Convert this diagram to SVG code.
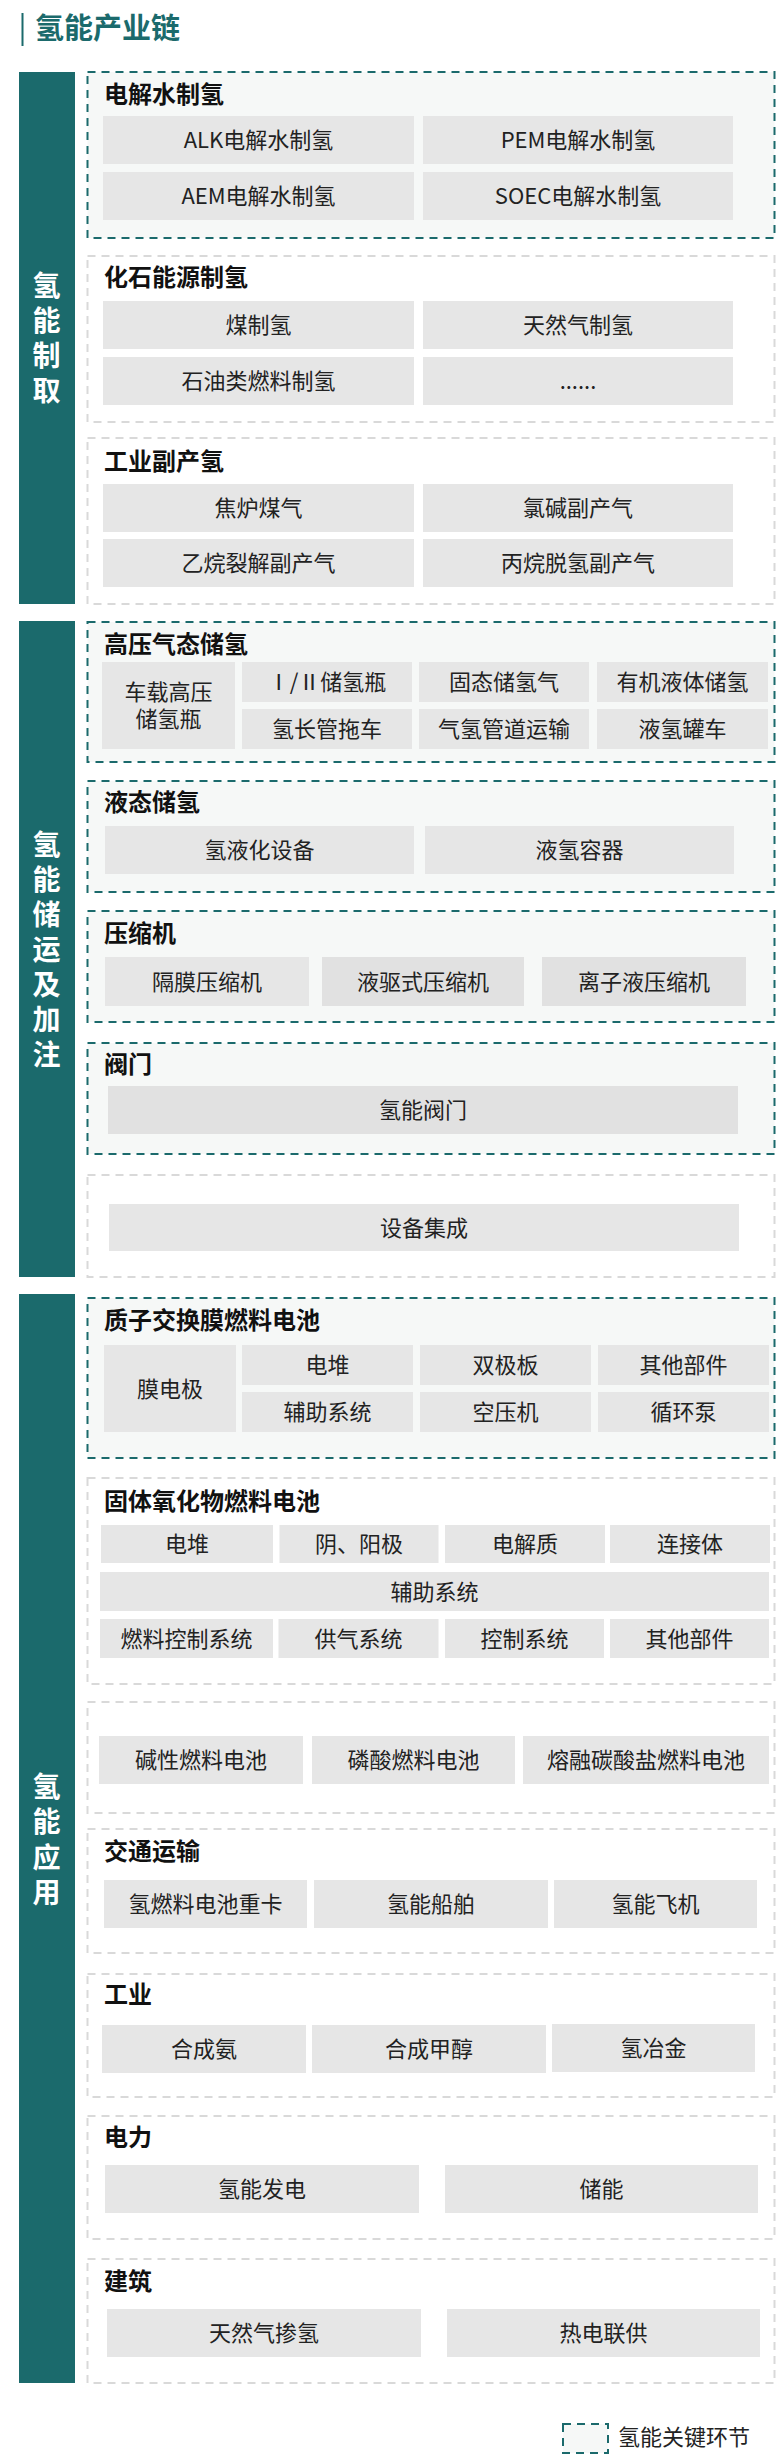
<svg xmlns="http://www.w3.org/2000/svg" width="777" height="2464" viewBox="0 0 777 2464">
<style>
text{font-family:"Noto Sans CJK SC","Noto Sans",sans-serif}
.bar{fill:#1b6a6c}
.key{fill:#f6f8f7;stroke:#1b6a6c;stroke-width:2;stroke-dasharray:8 6}
.sub{fill:#fff;stroke:#d9d9d9;stroke-width:2;stroke-dasharray:8 6}
.cell{fill:#e6e6e6}
.cell2{fill:#e1e1e1}
.ct{font-size:22px;fill:#222;text-anchor:middle}
.lb{font-size:24px;font-weight:700;fill:#111}
.vt{font-size:28px;font-weight:700;fill:#fff;writing-mode:vertical-rl;letter-spacing:7px}
.title{font-size:29px;font-weight:700;fill:#1b6a6c}
</style>
<rect width="777" height="2464" fill="#fff"/>
<g id="title">
<rect x="21.5" y="13" width="2" height="33" fill="#1b6a6c"/>
<text class="title" x="35" y="38.5">氢能产业链</text>
</g>
<g id="connectors"/>

<!-- Section 1 -->
<g id="sec-production">
<rect class="bar" x="19" y="72" width="56" height="532"/>
<text class="vt" x="46.5" y="271">氢能制取</text>
</g>
<g id="electrolysis">
<rect class="key" x="87.5" y="72" width="687" height="166"/>
<text class="lb" x="104" y="102.5">电解水制氢</text>
<rect class="cell" x="103" y="116" width="311" height="48"/><text class="ct" x="258.5" y="148">ALK电解水制氢</text>
<rect class="cell" x="423" y="116" width="310" height="48"/><text class="ct" x="578" y="148">PEM电解水制氢</text>
<rect class="cell" x="103" y="172" width="311" height="48"/><text class="ct" x="258.5" y="204">AEM电解水制氢</text>
<rect class="cell" x="423" y="172" width="310" height="48"/><text class="ct" x="578" y="204">SOEC电解水制氢</text>
</g>
<g id="fossil">
<rect class="sub" x="87.5" y="256" width="687" height="166"/>
<text class="lb" x="104" y="286">化石能源制氢</text>
<rect class="cell" x="103" y="301" width="311" height="48"/><text class="ct" x="258.5" y="333">煤制氢</text>
<rect class="cell" x="423" y="301" width="310" height="48"/><text class="ct" x="578" y="333">天然气制氢</text>
<rect class="cell" x="103" y="357" width="311" height="48"/><text class="ct" x="258.5" y="389">石油类燃料制氢</text>
<rect class="cell" x="423" y="357" width="310" height="48"/><text class="ct" x="578" y="389">......</text>
</g>
<g id="byproduct">
<rect class="sub" x="87.5" y="438" width="687" height="166"/>
<text class="lb" x="104" y="469.5">工业副产氢</text>
<rect class="cell" x="103" y="484" width="311" height="48"/><text class="ct" x="258.5" y="516">焦炉煤气</text>
<rect class="cell" x="423" y="484" width="310" height="48"/><text class="ct" x="578" y="516">氯碱副产气</text>
<rect class="cell" x="103" y="539" width="311" height="48"/><text class="ct" x="258.5" y="571">乙烷裂解副产气</text>
<rect class="cell" x="423" y="539" width="310" height="48"/><text class="ct" x="578" y="571">丙烷脱氢副产气</text>
</g>

<!-- Section 2 -->
<g id="sec-storage">
<rect class="bar" x="19" y="621" width="56" height="656"/>
<text class="vt" x="46.5" y="830">氢能储运及加注</text>
</g>
<g id="gas-storage">
<rect class="key" x="87.5" y="622" width="687" height="140"/>
<text class="lb" x="104" y="652.5">高压气态储氢</text>
<rect class="cell" x="102" y="662" width="133" height="87"/>
<text class="ct" x="168.5" y="699.5">车载高压</text>
<text class="ct" x="168.5" y="727">储氢瓶</text>
<rect class="cell" x="242" y="662" width="170" height="40"/><text class="ct" x="327" y="690">Ⅰ/Ⅱ储氢瓶</text>
<rect class="cell" x="419" y="662" width="170" height="40"/><text class="ct" x="504" y="690">固态储氢气</text>
<rect class="cell" x="597" y="662" width="171" height="40"/><text class="ct" x="682.5" y="690">有机液体储氢</text>
<rect class="cell" x="242" y="709" width="170" height="40"/><text class="ct" x="327" y="737">氢长管拖车</text>
<rect class="cell" x="419" y="709" width="170" height="40"/><text class="ct" x="504" y="737">气氢管道运输</text>
<rect class="cell" x="597" y="709" width="171" height="40"/><text class="ct" x="682.5" y="737">液氢罐车</text>
</g>
<g id="liquid-storage">
<rect class="key" x="87.5" y="781" width="687" height="111"/>
<text class="lb" x="104" y="811">液态储氢</text>
<rect class="cell" x="105" y="826" width="309" height="48"/><text class="ct" x="259.5" y="858">氢液化设备</text>
<rect class="cell" x="425" y="826" width="309" height="48"/><text class="ct" x="579.5" y="858">液氢容器</text>
</g>
<g id="compressor">
<rect class="key" x="87.5" y="911" width="687" height="111"/>
<text class="lb" x="104" y="941.5">压缩机</text>
<rect class="cell" x="105" y="957" width="204" height="49"/><text class="ct" x="207" y="989.5">隔膜压缩机</text>
<rect class="cell2" x="322" y="957" width="202" height="49"/><text class="ct" x="423" y="989.5">液驱式压缩机</text>
<rect class="cell2" x="542" y="957" width="204" height="49"/><text class="ct" x="644" y="989.5">离子液压缩机</text>
</g>
<g id="valve">
<rect class="key" x="87.5" y="1043" width="687" height="111"/>
<text class="lb" x="104" y="1072.5">阀门</text>
<rect class="cell2" x="108" y="1086" width="630" height="48"/><text class="ct" x="423" y="1118">氢能阀门</text>
</g>
<g id="integration">
<rect class="sub" x="87.5" y="1175" width="687" height="102"/>
<rect class="cell" x="109" y="1204" width="630" height="47"/><text class="ct" x="424" y="1235.5">设备集成</text>
</g>

<!-- Section 3 -->
<g id="sec-application">
<rect class="bar" x="19" y="1294" width="56" height="1089"/>
<text class="vt" x="46.5" y="1772" style="letter-spacing:7.5px">氢能应用</text>
</g>
<g id="pemfc">
<rect class="key" x="87.5" y="1298" width="687" height="160"/>
<text class="lb" x="104" y="1328.5">质子交换膜燃料电池</text>
<rect class="cell" x="104" y="1345" width="132" height="87"/><text class="ct" x="170" y="1396.5">膜电极</text>
<rect class="cell" x="242" y="1345" width="171" height="40"/><text class="ct" x="327.5" y="1373">电堆</text>
<rect class="cell" x="420" y="1345" width="171" height="40"/><text class="ct" x="505.5" y="1373">双极板</text>
<rect class="cell" x="598" y="1345" width="171" height="40"/><text class="ct" x="683.5" y="1373">其他部件</text>
<rect class="cell" x="242" y="1392" width="171" height="40"/><text class="ct" x="327.5" y="1420">辅助系统</text>
<rect class="cell" x="420" y="1392" width="171" height="40"/><text class="ct" x="505.5" y="1420">空压机</text>
<rect class="cell" x="598" y="1392" width="171" height="40"/><text class="ct" x="683.5" y="1420">循环泵</text>
</g>
<g id="sofc">
<rect class="sub" x="87.5" y="1478" width="687" height="206"/>
<text class="lb" x="104" y="1509.5">固体氧化物燃料电池</text>
<rect class="cell" x="101" y="1525" width="172" height="38"/><text class="ct" x="187" y="1552">电堆</text>
<rect class="cell" x="279.5" y="1525" width="159" height="38"/><text class="ct" x="359" y="1552">阴、阳极</text>
<rect class="cell" x="445" y="1525" width="160" height="38"/><text class="ct" x="525" y="1552">电解质</text>
<rect class="cell" x="610" y="1525" width="160" height="38"/><text class="ct" x="690" y="1552">连接体</text>
<rect class="cell" x="100" y="1572" width="669" height="39"/><text class="ct" x="434.5" y="1599.5">辅助系统</text>
<rect class="cell" x="100" y="1619" width="173" height="39"/><text class="ct" x="186.5" y="1646.5">燃料控制系统</text>
<rect class="cell" x="278.5" y="1619" width="160" height="39"/><text class="ct" x="358.5" y="1646.5">供气系统</text>
<rect class="cell" x="445" y="1619" width="159" height="39"/><text class="ct" x="524.5" y="1646.5">控制系统</text>
<rect class="cell" x="610" y="1619" width="159" height="39"/><text class="ct" x="689.5" y="1646.5">其他部件</text>
</g>
<g id="other-fc">
<rect class="sub" x="87.5" y="1702" width="687" height="111"/>
<rect class="cell" x="99" y="1736" width="204" height="48"/><text class="ct" x="201" y="1768">碱性燃料电池</text>
<rect class="cell" x="312" y="1736" width="203" height="48"/><text class="ct" x="413.5" y="1768">磷酸燃料电池</text>
<rect class="cell" x="523" y="1736" width="246" height="48"/><text class="ct" x="646" y="1768">熔融碳酸盐燃料电池</text>
</g>
<g id="transport">
<rect class="sub" x="87.5" y="1829" width="687" height="124"/>
<text class="lb" x="104" y="1859.5">交通运输</text>
<rect class="cell" x="104" y="1880" width="203" height="48"/><text class="ct" x="205.5" y="1912">氢燃料电池重卡</text>
<rect class="cell" x="314" y="1880" width="234" height="48"/><text class="ct" x="431" y="1912">氢能船舶</text>
<rect class="cell" x="554" y="1880" width="203" height="48"/><text class="ct" x="655.5" y="1912">氢能飞机</text>
</g>
<g id="industry">
<rect class="sub" x="87.5" y="1974" width="687" height="123"/>
<text class="lb" x="104" y="2003">工业</text>
<rect class="cell" x="102" y="2025" width="204" height="48"/><text class="ct" x="204" y="2057">合成氨</text>
<rect class="cell" x="312" y="2025" width="234" height="48"/><text class="ct" x="429" y="2057">合成甲醇</text>
<rect class="cell" x="552" y="2024" width="203" height="48"/><text class="ct" x="653.5" y="2056">氢冶金</text>
</g>
<g id="power">
<rect class="sub" x="87.5" y="2116" width="687" height="123"/>
<text class="lb" x="104" y="2145.5">电力</text>
<rect class="cell" x="105" y="2165" width="314" height="48"/><text class="ct" x="262" y="2197">氢能发电</text>
<rect class="cell" x="445" y="2165" width="313" height="48"/><text class="ct" x="601.5" y="2197">储能</text>
</g>
<g id="building">
<rect class="sub" x="87.5" y="2259" width="687" height="124"/>
<text class="lb" x="104" y="2289.5">建筑</text>
<rect class="cell" x="107" y="2309" width="314" height="48"/><text class="ct" x="264" y="2341">天然气掺氢</text>
<rect class="cell" x="447" y="2309" width="313" height="48"/><text class="ct" x="603.5" y="2341">热电联供</text>
</g>

<g id="legend">
<rect class="key" x="563" y="2424" width="45" height="29"/>
<text x="618" y="2444.5" font-size="22" fill="#222">氢能关键环节</text>
</g>
</svg>
